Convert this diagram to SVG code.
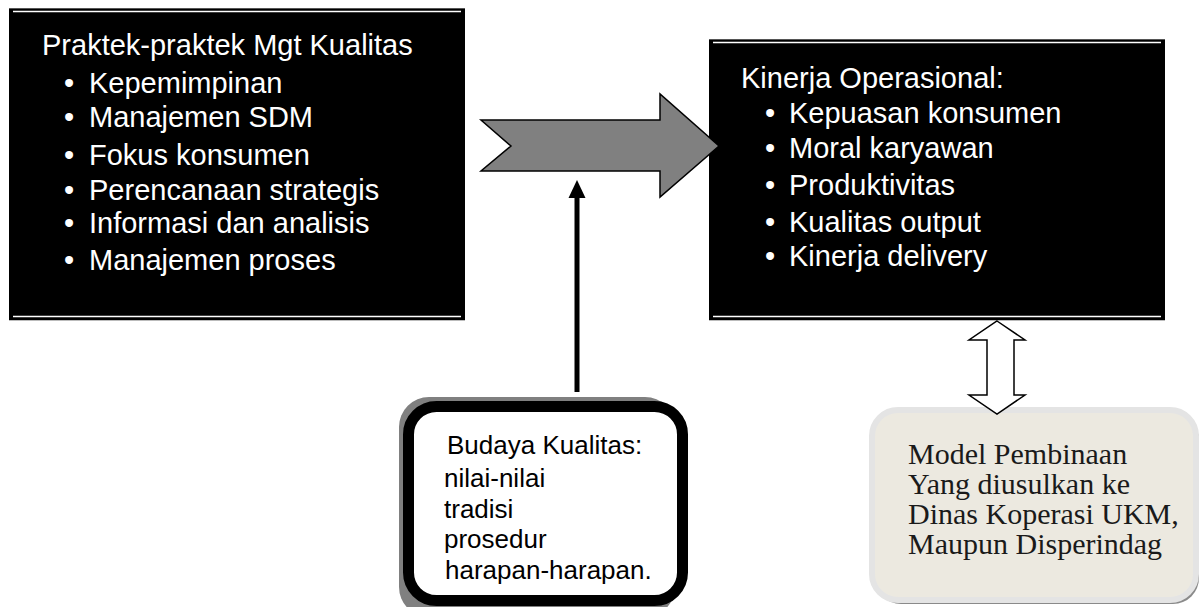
<svg xmlns="http://www.w3.org/2000/svg" width="1201" height="607" viewBox="0 0 1201 607">
<style>
.bx{fill:#000}
.wl{stroke:#fff;stroke-width:1.6}
.wt{font-family:"Liberation Sans",Arial,sans-serif;font-size:29px;fill:#fff}
.bt{font-family:"Liberation Sans",Arial,sans-serif;font-size:26px;fill:#000}
.st{font-family:"Liberation Serif","Times New Roman",serif;font-size:30px;fill:#1a1a1a}
</style>
<rect width="1201" height="607" fill="#fff"/>
<g id="praktek">
<rect class="bx" x="9" y="8" width="456" height="312"/>
<line x1="9" y1="8.5" x2="465" y2="8.5" stroke="#555" stroke-width="1"/>
<line x1="9" y1="320.5" x2="465" y2="320.5" stroke="#bbb" stroke-width="1"/>
<line class="wl" x1="13" y1="11.5" x2="461" y2="11.5"/>
<line class="wl" x1="13" y1="316.5" x2="461" y2="316.5"/>
<text class="wt" x="42" y="55">Praktek-praktek Mgt Kualitas</text>
<text class="wt" x="64" y="93">•<tspan x="89">Kepemimpinan</tspan></text>
<text class="wt" x="64" y="127">•<tspan x="89">Manajemen SDM</tspan></text>
<text class="wt" x="64" y="165">•<tspan x="89">Fokus konsumen</tspan></text>
<text class="wt" x="64" y="200">•<tspan x="89">Perencanaan strategis</tspan></text>
<text class="wt" x="64" y="233">•<tspan x="89">Informasi dan analisis</tspan></text>
<text class="wt" x="64" y="270">•<tspan x="89">Manajemen proses</tspan></text>
</g>
<g id="kinerja">
<rect class="bx" x="709" y="39" width="456" height="281"/>
<line x1="709" y1="39.5" x2="1165" y2="39.5" stroke="#555" stroke-width="1"/>
<line x1="709" y1="320.5" x2="1165" y2="320.5" stroke="#bbb" stroke-width="1"/>
<line class="wl" x1="713" y1="42.5" x2="1161" y2="42.5"/>
<line class="wl" x1="713" y1="316.5" x2="1161" y2="316.5"/>
<text class="wt" x="741" y="88">Kinerja Operasional:</text>
<text class="wt" x="765" y="123">•<tspan x="789">Kepuasan konsumen</tspan></text>
<text class="wt" x="765" y="158">•<tspan x="789">Moral karyawan</tspan></text>
<text class="wt" x="765" y="195">•<tspan x="789">Produktivitas</tspan></text>
<text class="wt" x="765" y="232">•<tspan x="789">Kualitas output</tspan></text>
<text class="wt" x="765" y="266">•<tspan x="789">Kinerja delivery</tspan></text>
</g>
<g id="budaya">
<rect x="399" y="397" width="276" height="220" rx="30" fill="#808080"/>
<rect x="408.5" y="406.5" width="274" height="194" rx="28" fill="#fff" stroke="#000" stroke-width="11"/>
<text class="bt" x="447" y="454">Budaya Kualitas:</text>
<text class="bt" x="444" y="487">nilai-nilai</text>
<text class="bt" x="444" y="518">tradisi</text>
<text class="bt" x="444" y="548">prosedur</text>
<text class="bt" x="445" y="579">harapan-harapan.</text>
</g>
<g id="model">
<rect x="875" y="414" width="324" height="190" rx="26" fill="#8a8a8a"/>
<rect x="872" y="410" width="324" height="190" rx="26" fill="#ECE9E0" stroke="#E4E4E4" stroke-width="6"/>
<text class="st" x="908" y="464">Model Pembinaan</text>
<text class="st" x="908" y="494">Yang diusulkan ke</text>
<text class="st" x="908" y="524">Dinas Koperasi UKM,</text>
<text class="st" x="908" y="554">Maupun Disperindag</text>
</g>
<g id="connectors">
<polygon points="481,120 660,120 660,94 719,146 660,197 660,171 481,171 511,146" fill="#808080" stroke="#000" stroke-width="1.5" stroke-linejoin="miter"/>
<line x1="577" y1="392" x2="577" y2="196" stroke="#000" stroke-width="5"/>
<polygon points="577,180 585.5,198 568.5,198" fill="#000"/>
<polygon points="997,321 1025,340 1014,340 1014,395 1025,395 997,414 969,395 987,395 987,340 969,340" fill="#fff" stroke="#000" stroke-width="1.5"/>
</g>
</svg>
